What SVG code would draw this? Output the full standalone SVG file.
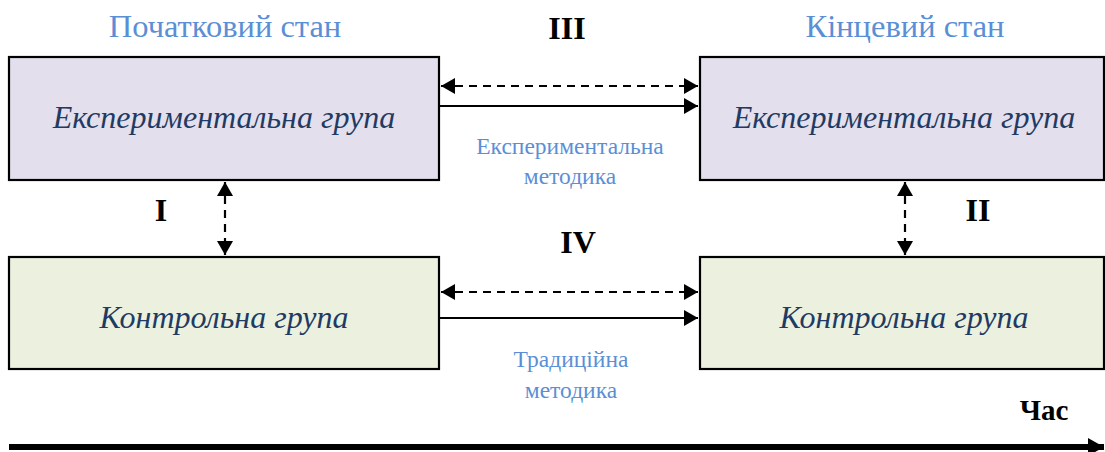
<svg xmlns="http://www.w3.org/2000/svg" width="1105" height="452" viewBox="0 0 1105 452">
<style>
.box{stroke:#000;stroke-width:2.2}
.exp{fill:#E4DFEC}
.ctl{fill:#EBF1DE}
.btxt{font-family:"Liberation Serif","Times New Roman",serif;font-style:italic;font-size:32px;fill:#1F3B63;text-anchor:middle}
.title{font-family:"Liberation Serif","Times New Roman",serif;font-size:32.5px;fill:#5B8FD5;text-anchor:middle}
.meth{font-family:"Liberation Serif","Times New Roman",serif;font-size:23.5px;fill:#5B8FD5;text-anchor:middle}
.rom{font-family:"Liberation Serif","Times New Roman",serif;font-weight:bold;font-size:32px;fill:#000;text-anchor:middle}
.ln{stroke:#000;stroke-width:2.2;fill:none}
.dash{stroke-dasharray:8 6}
</style>
<defs>
<marker id="ah" markerUnits="userSpaceOnUse" markerWidth="16" markerHeight="16" refX="14" refY="8" orient="auto-start-reverse">
<path d="M0,0 L14,8 L0,16 Z" fill="#000"/>
</marker>
<marker id="ahBig" markerUnits="userSpaceOnUse" markerWidth="18" markerHeight="18" refX="16" refY="9" orient="auto">
<path d="M0,0 L16,9 L0,18 Z" fill="#000"/>
</marker>
</defs>
<text class="title" x="225" y="37">Початковий стан</text>
<text class="title" x="905" y="37">Кінцевий стан</text>
<g id="exp-start"><rect class="box exp" x="9" y="57" width="430" height="123"/><text class="btxt" x="224" y="128">Експериментальна група</text></g>
<g id="exp-end"><rect class="box exp" x="700" y="57" width="404" height="123"/><text class="btxt" x="904" y="128">Експериментальна група</text></g>
<g id="ctl-start"><rect class="box ctl" x="9" y="257" width="430" height="112"/><text class="btxt" x="224" y="328">Контрольна група</text></g>
<g id="ctl-end"><rect class="box ctl" x="700" y="257" width="404" height="112"/><text class="btxt" x="904" y="328">Контрольна група</text></g>
<g id="connectors">
<line class="ln dash" x1="441" y1="86" x2="698" y2="86" marker-start="url(#ah)" marker-end="url(#ah)"/>
<line class="ln" x1="440" y1="106" x2="698" y2="106" marker-end="url(#ah)"/>
<line class="ln dash" x1="441" y1="292" x2="698" y2="292" marker-start="url(#ah)" marker-end="url(#ah)"/>
<line class="ln" x1="440" y1="318" x2="698" y2="318" marker-end="url(#ah)"/>
<line class="ln dash" x1="225" y1="182" x2="225" y2="255" marker-start="url(#ah)" marker-end="url(#ah)"/>
<line class="ln dash" x1="905" y1="182" x2="905" y2="255" marker-start="url(#ah)" marker-end="url(#ah)"/>
<line x1="9" y1="447" x2="1104" y2="447" stroke="#000" stroke-width="6" marker-end="url(#ahBig)"/>
</g>
<text class="rom" x="567" y="39">III</text>
<text class="rom" x="578" y="253">IV</text>
<text class="rom" x="161" y="221">I</text>
<text class="rom" x="978" y="221">II</text>
<text class="meth" x="570" y="154">Експериментальна</text>
<text class="meth" x="570" y="184">методика</text>
<text class="meth" x="571" y="367">Традиційна</text>
<text class="meth" x="571" y="398">методика</text>
<text class="rom" x="1044" y="420" style="font-size:29px">Час</text>
</svg>
